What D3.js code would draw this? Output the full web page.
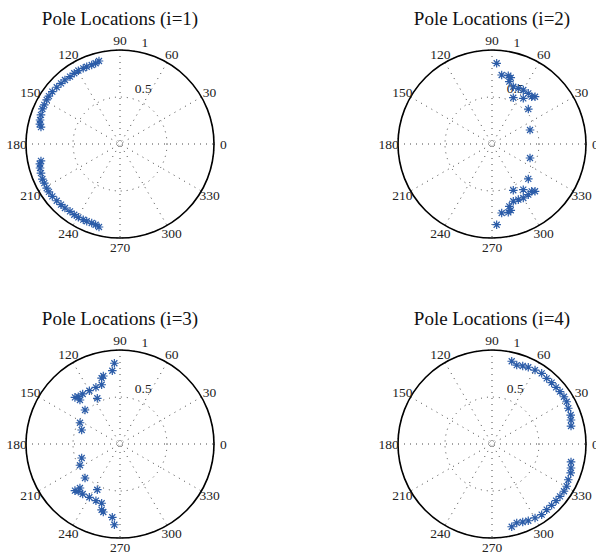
<!DOCTYPE html>
<html>
<head>
<meta charset="utf-8">
<script src="https://cdn.jsdelivr.net/npm/d3@7"></script>
<style>
	body { margin: 0; background: #fff; }
	svg { display: block; font-family: "Liberation Serif", "Times New Roman", serif; }
</style>
</head>
<body>
<svg id="chart" width="596" height="553"></svg>
<script>
// pole locations: [angle in degrees, radius]
var poles1 = [
	[104.2, 0.911], [106.8, 0.897], [109.7, 0.893], [113.3, 0.895], [115.9, 0.895],
	[119.6, 0.897], [122.9, 0.896], [126.6, 0.892], [130.7, 0.898], [134.2, 0.900],
	[138.1, 0.904], [142.3, 0.910], [146.0, 0.912], [149.0, 0.910], [152.7, 0.906],
	[155.7, 0.906], [159.8, 0.896], [163.3, 0.888], [166.0, 0.878], [167.9, 0.860],
	[255.8, 0.911], [253.2, 0.897], [250.3, 0.893], [246.7, 0.895], [244.1, 0.895],
	[240.4, 0.897], [237.1, 0.896], [233.4, 0.892], [229.3, 0.898], [225.8, 0.900],
	[221.9, 0.904], [217.7, 0.910], [214.0, 0.912], [211.0, 0.910], [207.3, 0.906],
	[204.3, 0.906], [200.2, 0.896], [196.7, 0.888], [194.0, 0.878], [192.1, 0.860]
];
var poles2 = [
	[86.7, 0.860], [82.0, 0.741], [76.6, 0.747], [74.2, 0.733], [74.5, 0.688],
	[69.6, 0.650], [64.7, 0.655], [59.9, 0.664], [54.4, 0.663], [50.0, 0.657],
	[47.7, 0.680], [55.6, 0.589], [65.3, 0.542], [43.9, 0.536], [20.2, 0.431],
	[273.3, 0.860], [278.0, 0.741], [283.4, 0.747], [285.8, 0.733], [285.5, 0.688],
	[290.4, 0.650], [295.3, 0.655], [300.1, 0.664], [305.6, 0.663], [310.0, 0.657],
	[312.3, 0.680], [304.4, 0.589], [294.7, 0.542], [316.1, 0.536], [339.8, 0.431]
];
var poles3 = [
	[94.0, 0.861], [96.0, 0.784], [103.8, 0.745], [105.6, 0.728], [107.2, 0.660],
	[113.0, 0.655], [119.9, 0.654], [126.7, 0.664], [131.4, 0.671], [134.0, 0.690],
	[116.4, 0.543], [132.3, 0.633], [135.8, 0.519], [152.0, 0.482], [159.9, 0.434],
	[266.0, 0.861], [264.0, 0.784], [256.2, 0.745], [254.4, 0.728], [252.8, 0.660],
	[247.0, 0.655], [240.1, 0.654], [233.3, 0.664], [228.6, 0.671], [226.0, 0.690],
	[243.6, 0.543], [227.7, 0.633], [224.2, 0.519], [208.0, 0.482], [200.1, 0.434]
];
var poles4 = [
	[76.6, 0.905], [72.6, 0.880], [68.5, 0.892], [64.7, 0.903], [59.8, 0.910],
	[54.9, 0.919], [50.2, 0.909], [45.8, 0.910], [41.5, 0.910], [37.6, 0.913],
	[33.3, 0.916], [29.5, 0.913], [25.1, 0.896], [20.2, 0.892], [16.9, 0.878],
	[12.8, 0.862],
	[283.4, 0.905], [287.4, 0.880], [291.5, 0.892], [295.3, 0.903], [300.2, 0.910],
	[305.1, 0.919], [309.8, 0.909], [314.2, 0.910], [318.5, 0.910], [322.4, 0.913],
	[326.7, 0.916], [330.5, 0.913], [334.9, 0.896], [339.8, 0.892], [343.1, 0.878],
	[347.2, 0.862]
];
var titles = ["Pole Locations (i=1)", "Pole Locations (i=2)", "Pole Locations (i=3)", "Pole Locations (i=4)"];
var rTicks = [0.5, 1];
var angleTicks = [0, 30, 60, 90, 120, 150, 180, 210, 240, 270, 300, 330];
var spokeAngles = [30, 60, 90, 120, 150, 180];

var svg = d3.select("#chart");
var centers = [[120, 144], [492, 144], [120, 444], [492, 444]];
var allPoles = [poles1, poles2, poles3, poles4];

var r = d3.scaleLinear().domain([0, 1]).range([0, 94]);
var rad = function (deg) { return deg * Math.PI / 180; };
var px = function (deg, v) { return r(v) * Math.cos(rad(deg)); };
var py = function (deg, v) { return -r(v) * Math.sin(rad(deg)); };

var star = "M-4.3,0H4.3M0,-4.3V4.3M-3,-3L3,3M-3,3L3,-3";

allPoles.forEach(function (data, k) {
	var g = svg.append("g")
		.attr("transform", "translate(" + centers[k][0] + "," + centers[k][1] + ")");

	// dotted spokes
	g.selectAll(".spoke")
		.data(spokeAngles)
		.enter().append("line")
		.attr("x1", function (d) { return px(d, 1); })
		.attr("y1", function (d) { return py(d, 1); })
		.attr("x2", function (d) { return px(d + 180, 1); })
		.attr("y2", function (d) { return py(d + 180, 1); })
		.attr("stroke", "#333")
		.attr("stroke-width", 0.9)
		.attr("stroke-dasharray", "1,5");

	// dotted rings
	g.selectAll(".ring")
		.data(rTicks)
		.enter().append("circle")
		.attr("r", function (d) { return r(d); })
		.attr("fill", "none")
		.attr("stroke", "#333")
		.attr("stroke-width", 0.9)
		.attr("stroke-dasharray", "1,5");

	// outer solid circle
	g.append("circle")
		.attr("r", r(1))
		.attr("fill", "none")
		.attr("stroke", "#000")
		.attr("stroke-width", 1.6);

	// radius labels at 82 degrees
	g.selectAll(".rlab")
		.data(rTicks)
		.enter().append("text")
		.attr("x", function (d) { return px(82, d + 0.025) + 8; })
		.attr("y", function (d) { return py(82, d + 0.025) - 2; })
		.attr("font-size", 13.5)
		.attr("fill", "#222")
		.text(function (d) { return d; });

	// angle labels
	g.selectAll(".alab")
		.data(angleTicks)
		.enter().append("text")
		.attr("x", function (d) { return px(d, 1.1); })
		.attr("y", function (d) { return py(d, 1.1); })
		.attr("dy", "0.35em")
		.attr("text-anchor", "middle")
		.attr("font-size", 13.5)
		.attr("fill", "#222")
		.text(function (d) { return d; });

	// title
	g.append("text")
		.attr("x", 0)
		.attr("y", -119.5)
		.attr("text-anchor", "middle")
		.attr("font-size", 19)
		.attr("fill", "#111")
		.text(titles[k]);

	// pole markers
	g.selectAll(".pole")
		.data(data)
		.enter().append("path")
		.attr("d", star)
		.attr("transform", function (d) {
			return "translate(" + px(d[0], d[1]) + "," + py(d[0], d[1]) + ")";
		})
		.attr("fill", "none")
		.attr("stroke", "#2b5ca8")
		.attr("stroke-width", 1.2);
});
</script>
</body>
</html>
